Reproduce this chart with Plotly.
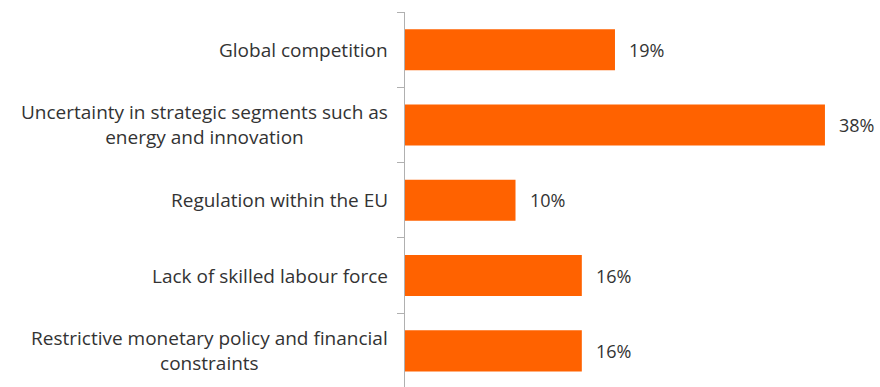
import plotly.graph_objects as go

# Survey categories (top to bottom) and share of respondents (%)
categories = [
    "Global competition",
    "Uncertainty in strategic segments such as<br>energy and innovation",
    "Regulation within the EU",
    "Lack of skilled labour force",
    "Restrictive monetary policy and financial<br>constraints",
]
values = [19, 38, 10, 16, 16]

BAR_COLOR = "#FF6200"
TEXT_COLOR = "#333333"
FONT = "Open Sans"
LABEL_SIZE = 19
VALUE_SIZE = 18

positions = list(range(len(categories)))

fig = go.Figure(
    go.Bar(
        x=values,
        y=positions,
        orientation="h",
        marker=dict(color=BAR_COLOR, line=dict(width=0)),
        hoverinfo="skip",
    )
)

annotations = []
# Value labels to the right of each bar
for pos, val in zip(positions, values):
    annotations.append(dict(
        x=val, y=pos, xref="x", yref="y",
        text=f"{val}%", showarrow=False,
        xanchor="left", yanchor="middle", xshift=12,
        font=dict(family=FONT, size=VALUE_SIZE, color=TEXT_COLOR),
    ))
# Category labels, centred line by line, right edge next to the axis
for pos, cat in zip(positions, categories):
    annotations.append(dict(
        x=0, y=pos, xref="paper", yref="y",
        text=cat, showarrow=False, align="center",
        xanchor="right", yanchor="middle", xshift=-15,
        font=dict(family=FONT, size=LABEL_SIZE, color=TEXT_COLOR),
    ))

fig.update_layout(
    width=880, height=387,
    margin=dict(l=405, r=2, t=12, b=0),
    paper_bgcolor="white", plot_bgcolor="white",
    bargap=0.455,
    showlegend=False,
    annotations=annotations,
    xaxis=dict(range=[0, 42.8], visible=False, fixedrange=True),
    yaxis=dict(
        range=[4.48, -0.5],
        tickmode="array",
        tickvals=[p - 0.5 for p in positions],
        ticktext=[""] * len(positions),
        showticklabels=False,
        ticks="outside", ticklen=7, tickwidth=1, tickcolor="#b0b0b0",
        showline=True, linecolor="#b0b0b0", linewidth=1,
        showgrid=False, zeroline=False, fixedrange=True,
    ),
)

fig.write_html("out.html")
